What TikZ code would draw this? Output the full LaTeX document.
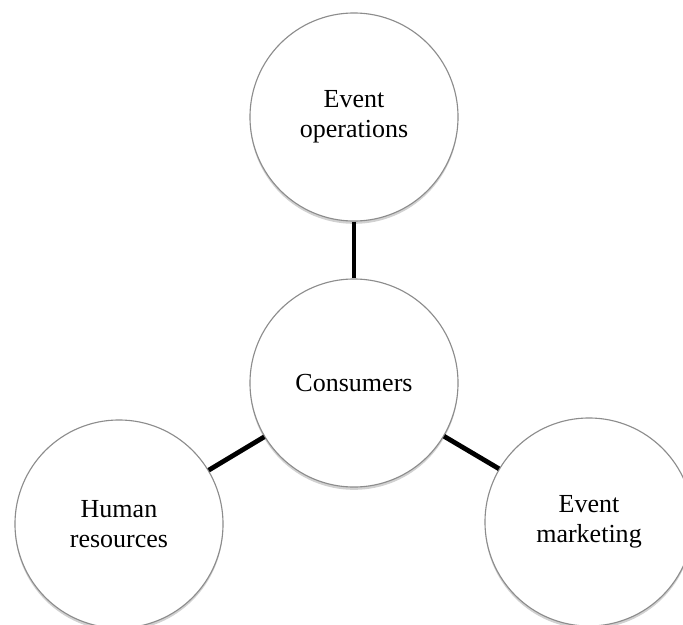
\documentclass[tikz,border=0pt]{standalone}
\usepackage{fontspec}
\setmainfont{Liberation Serif}
\usetikzlibrary{shadows}

\tikzset{
	bubble/.style={circle, draw=black!45, line width=0.8pt, fill=white, minimum size=5.2cm, inner sep=0pt, align=center,
		font=\fontsize{18.5}{21.5}\selectfont, drop shadow={shadow xshift=0pt, shadow yshift=-2pt, fill=black!40, opacity=0.45}},
	link/.style={line width=3.4pt, black}
}

\begin{document}
\begin{tikzpicture}[x=0.025cm, y=-0.025cm]
			\clip (0,0) rectangle (683,624);
			\useasboundingbox (0,0) rectangle (683,624);
			\node[bubble] (ops) at (354,117) {Event\\operations};
			\node[bubble] (cons) at (354,383) {Consumers};
			\node[bubble] (hr) at (119,524) {Human\\resources};
			\node[bubble] (mkt) at (589,522) {Event\\marketing};
			\draw[link] (ops) -- (cons);
			\draw[link] (cons) -- (hr);
			\draw[link] (cons) -- (mkt);
			\end{tikzpicture}
\end{document}
